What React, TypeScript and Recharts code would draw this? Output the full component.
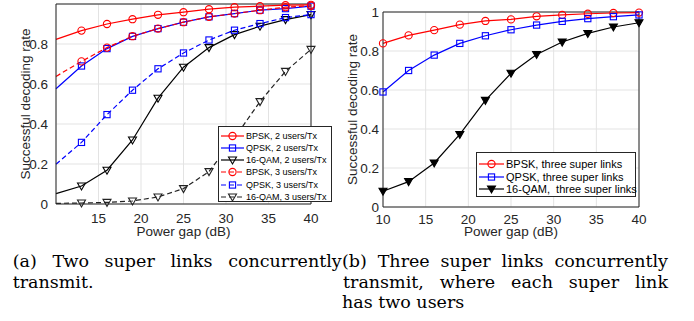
import { LineChart, Line, XAxis, YAxis, CartesianGrid, Label, ReferenceLine } from 'recharts';

const powerGap = [10, 13, 16, 19, 22, 25, 28, 31, 34, 37, 40];

// (a) two super links, 2 or 3 users per Tx
const bpsk2 = [0.823, 0.867, 0.9, 0.924, 0.946, 0.959, 0.974, 0.984, 0.989, 0.994, 0.996];
const qpsk2 = [0.576, 0.69, 0.777, 0.838, 0.877, 0.909, 0.936, 0.952, 0.969, 0.977, 0.989];
const qam2 = [0.052, 0.09, 0.169, 0.32, 0.529, 0.684, 0.782, 0.847, 0.889, 0.922, 0.947];
const bpsk3 = [0.638, 0.713, 0.782, 0.839, 0.877, 0.909, 0.936, 0.952, 0.969, 0.984, 0.991];
const qpsk3 = [0.199, 0.308, 0.447, 0.569, 0.676, 0.755, 0.82, 0.869, 0.902, 0.932, 0.947];
const qam3 = [0.003, 0.005, 0.008, 0.015, 0.035, 0.077, 0.162, 0.33, 0.512, 0.663, 0.773];

// (b) three super links
const bpskThree = [0.839, 0.88, 0.907, 0.935, 0.954, 0.962, 0.978, 0.985, 0.991, 0.995, 0.997];
const qpskThree = [0.59, 0.7, 0.779, 0.839, 0.878, 0.909, 0.933, 0.952, 0.966, 0.976, 0.985];
const qamThree = [0.081, 0.13, 0.226, 0.372, 0.547, 0.686, 0.782, 0.846, 0.89, 0.923, 0.945];

const xTicksA = [15, 20, 25, 30, 35, 40];
const xTicksB = [10, 15, 20, 25, 30, 35, 40];
const yTicksA = [0, 0.2, 0.4, 0.6, 0.8];
const yTicksB = [0, 0.2, 0.4, 0.6, 0.8, 1];

const legendA = [
  'BPSK, 2 users/Tx',
  'QPSK, 2 users/Tx',
  '16-QAM, 2 users/Tx',
  'BPSK, 3 users/Tx',
  'QPSK, 3 users/Tx',
  '16-QAM, 3 users/Tx',
];
const legendB = ['BPSK, three super links', 'QPSK, three super links', '16-QAM,  three super links'];

const dataA = powerGap.map((x, i) => ({
  x,
  bpsk2: bpsk2[i],
  qpsk2: qpsk2[i],
  qam2: qam2[i],
  bpsk3: bpsk3[i],
  qpsk3: qpsk3[i],
  qam3: qam3[i],
}));

const dataB = powerGap.map((x, i) => ({
  x,
  bpsk: bpskThree[i],
  qpsk: qpskThree[i],
  qam: qamThree[i],
}));

const RED = '#ff0000';
const BLUE = '#0000ff';
const BLACK = '#000000';
const AXIS = '#262626';
const GRID = '#e3e3e3';
const SANS = 'Liberation Sans, Arial, sans-serif';
const SERIF = 'DejaVu Serif, serif';

type Shape = 'circle' | 'square' | 'triangle';

function markerEl(shape: Shape, x: number, y: number, color: string, filled: boolean, key?: string) {
  const fill = filled ? color : 'none';
  if (shape === 'circle') {
    return <circle key={key} cx={x} cy={y} r={3.6} fill={fill} stroke={color} strokeWidth={1.1} />;
  }
  if (shape === 'square') {
    return <rect key={key} x={x - 3.1} y={y - 3.1} width={6.2} height={6.2} fill={fill} stroke={color} strokeWidth={1.1} />;
  }
  return (
    <polygon
      key={key}
      points={`${x - 4},${y - 3} ${x + 4},${y - 3} ${x},${y + 4}`}
      fill={fill}
      stroke={color}
      strokeWidth={1.1}
    />
  );
}

// skipFirst: in (a) the point at 10 dB sits on the axis edge with no marker
const makeDot = (shape: Shape, color: string, filled: boolean, skipFirst: boolean) => (props: any) => {
  const { cx, cy, index } = props;
  if (skipFirst && index === 0) return <g key={`d-${index}`} />;
  return markerEl(shape, cx, cy, color, filled, `d-${index}`);
};

const tickStyle = { fontFamily: SANS, fontSize: 13.5, fill: AXIS };
const titleStyle = { fontFamily: SANS, fontSize: 13.5, fill: AXIS };

interface LegendItem {
  label: string;
  color: string;
  shape: Shape;
  dashed: boolean;
  filled: boolean;
}

function LegendBox({ items, left, top, width, height, rowTop, rowGap, fontSize, sampleW }: {
  items: LegendItem[];
  left: number;
  top: number;
  width: number;
  height: number;
  rowTop: number;
  rowGap: number;
  fontSize: number;
  sampleW: number;
}) {
  return (
    <div
      style={{
        position: 'absolute',
        left,
        top,
        width,
        height,
        boxSizing: 'border-box',
        border: `1px solid ${AXIS}`,
        background: '#fff',
      }}
    >
      {items.map((it, i) => (
        <div
          key={it.label}
          style={{
            position: 'absolute',
            left: 1,
            top: rowTop + i * rowGap - 6,
            height: 12,
            display: 'flex',
            alignItems: 'center',
            whiteSpace: 'pre',
            fontFamily: SANS,
            fontSize,
            color: BLACK,
          }}
        >
          <svg width={sampleW + 2} height={12} style={{ display: 'block' }}>
            <line
              x1={1}
              x2={sampleW + 1}
              y1={6}
              y2={6}
              stroke={it.color}
              strokeWidth={1.2}
              strokeDasharray={it.dashed ? '5 3' : undefined}
            />
            {markerEl(it.shape, sampleW / 2 + 1, 6, it.color, it.filled)}
          </svg>
          <span style={{ marginLeft: 1 }}>{it.label}</span>
        </div>
      ))}
    </div>
  );
}

const itemsA: LegendItem[] = [
  { label: legendA[0], color: RED, shape: 'circle', dashed: false, filled: false },
  { label: legendA[1], color: BLUE, shape: 'square', dashed: false, filled: false },
  { label: legendA[2], color: BLACK, shape: 'triangle', dashed: false, filled: false },
  { label: legendA[3], color: RED, shape: 'circle', dashed: true, filled: false },
  { label: legendA[4], color: BLUE, shape: 'square', dashed: true, filled: false },
  { label: legendA[5], color: '#222', shape: 'triangle', dashed: true, filled: false },
];

const itemsB: LegendItem[] = [
  { label: legendB[0], color: RED, shape: 'circle', dashed: false, filled: false },
  { label: legendB[1], color: BLUE, shape: 'square', dashed: false, filled: false },
  { label: legendB[2], color: BLACK, shape: 'triangle', dashed: false, filled: true },
];

export default function App() {
  const captionLine = {
    position: 'absolute' as const,
    fontFamily: SERIF,
    fontSize: 17.5,
    lineHeight: '20.5px',
    color: '#000',
    whiteSpace: 'nowrap' as const,
  };

  return (
    <div style={{ position: 'absolute', left: 0, top: 0, width: 694, height: 321, background: '#fff', overflow: 'hidden' }}>
      {/* (a) */}
      <div style={{ position: 'absolute', left: 0, top: 0 }}>
        <LineChart width={340} height={242} data={dataA} margin={{ top: 4, right: 29, bottom: 6, left: 0 }}>
          <CartesianGrid stroke={GRID} strokeWidth={1} />
          <XAxis
            dataKey="x"
            type="number"
            domain={[10, 40]}
            ticks={xTicksA}
            tick={tickStyle}
            tickSize={0}
            tickMargin={9}
            height={32}
            stroke={AXIS}
          >
            <Label value="Power gap (dB)" position="insideBottom" offset={0} style={titleStyle} />
          </XAxis>
          <YAxis
            type="number"
            domain={[0, 1]}
            ticks={yTicksA}
            tick={tickStyle}
            tickSize={0}
            tickMargin={8}
            width={56}
            stroke={AXIS}
          >
            <Label value="Successful decoding rate" angle={-90} position="center" dx={-3} style={titleStyle} />
          </YAxis>
          <ReferenceLine y={1} stroke={AXIS} />
          <ReferenceLine x={40} stroke={AXIS} />
          <Line dataKey="bpsk2" stroke={RED} strokeWidth={1.2} dot={makeDot('circle', RED, false, true)} isAnimationActive={false} />
          <Line dataKey="qpsk2" stroke={BLUE} strokeWidth={1.2} dot={makeDot('square', BLUE, false, true)} isAnimationActive={false} />
          <Line dataKey="qam2" stroke={BLACK} strokeWidth={1.2} dot={makeDot('triangle', BLACK, false, true)} isAnimationActive={false} />
          <Line dataKey="bpsk3" stroke={RED} strokeWidth={1.2} strokeDasharray="5 3" dot={makeDot('circle', RED, false, true)} isAnimationActive={false} />
          <Line dataKey="qpsk3" stroke={BLUE} strokeWidth={1.2} strokeDasharray="5 3" dot={makeDot('square', BLUE, false, true)} isAnimationActive={false} />
          <Line dataKey="qam3" stroke="#222" strokeWidth={1.2} strokeDasharray="5 3" dot={makeDot('triangle', '#222', false, true)} isAnimationActive={false} />
        </LineChart>
        <LegendBox items={itemsA} left={218} top={126} width={114} height={76} rowTop={8.7} rowGap={12.2} fontSize={9} sampleW={23} />
      </div>

      {/* (b) */}
      <div style={{ position: 'absolute', left: 340, top: 0 }}>
        <LineChart width={320} height={242} data={dataB} margin={{ top: 12, right: 21, bottom: 6, left: 0 }}>
          <CartesianGrid stroke={GRID} strokeWidth={1} />
          <XAxis
            dataKey="x"
            type="number"
            domain={[10, 40]}
            ticks={xTicksB}
            tick={tickStyle}
            tickSize={0}
            tickMargin={7}
            height={29}
            stroke={AXIS}
          >
            <Label value="Power gap (dB)" position="insideBottom" offset={0} style={titleStyle} />
          </XAxis>
          <YAxis
            type="number"
            domain={[0, 1]}
            ticks={yTicksB}
            tick={tickStyle}
            tickSize={0}
            tickMargin={4}
            width={43}
            stroke={AXIS}
          >
            <Label value="Successful decoding rate" angle={-90} position="center" dx={-9} style={titleStyle} />
          </YAxis>
          <ReferenceLine y={1} stroke={AXIS} />
          <ReferenceLine x={40} stroke={AXIS} />
          <Line dataKey="bpsk" stroke={RED} strokeWidth={1.2} dot={makeDot('circle', RED, false, false)} isAnimationActive={false} />
          <Line dataKey="qpsk" stroke={BLUE} strokeWidth={1.2} dot={makeDot('square', BLUE, false, false)} isAnimationActive={false} />
          <Line dataKey="qam" stroke={BLACK} strokeWidth={1.2} dot={makeDot('triangle', BLACK, true, false)} isAnimationActive={false} />
        </LineChart>
        <LegendBox items={itemsB} left={136} top={152} width={160} height={45} rowTop={11} rowGap={12.5} fontSize={11} sampleW={25} />
      </div>

      {/* captions */}
      <div style={{ ...captionLine, left: 12.7, top: 251, width: 329, textAlign: 'justify', textAlignLast: 'justify' }}>
        (a) Two super links concurrently
      </div>
      <div style={{ ...captionLine, left: 12.7, top: 271.5 }}>transmit.</div>
      <div style={{ ...captionLine, left: 342, top: 251, width: 326, textAlign: 'justify', textAlignLast: 'justify' }}>
        (b) Three super links concurrently
      </div>
      <div style={{ ...captionLine, left: 343, top: 271.5, width: 325, textAlign: 'justify', textAlignLast: 'justify' }}>
        transmit, where each super link
      </div>
      <div style={{ ...captionLine, left: 342, top: 292 }}>has two users</div>
    </div>
  );
}
